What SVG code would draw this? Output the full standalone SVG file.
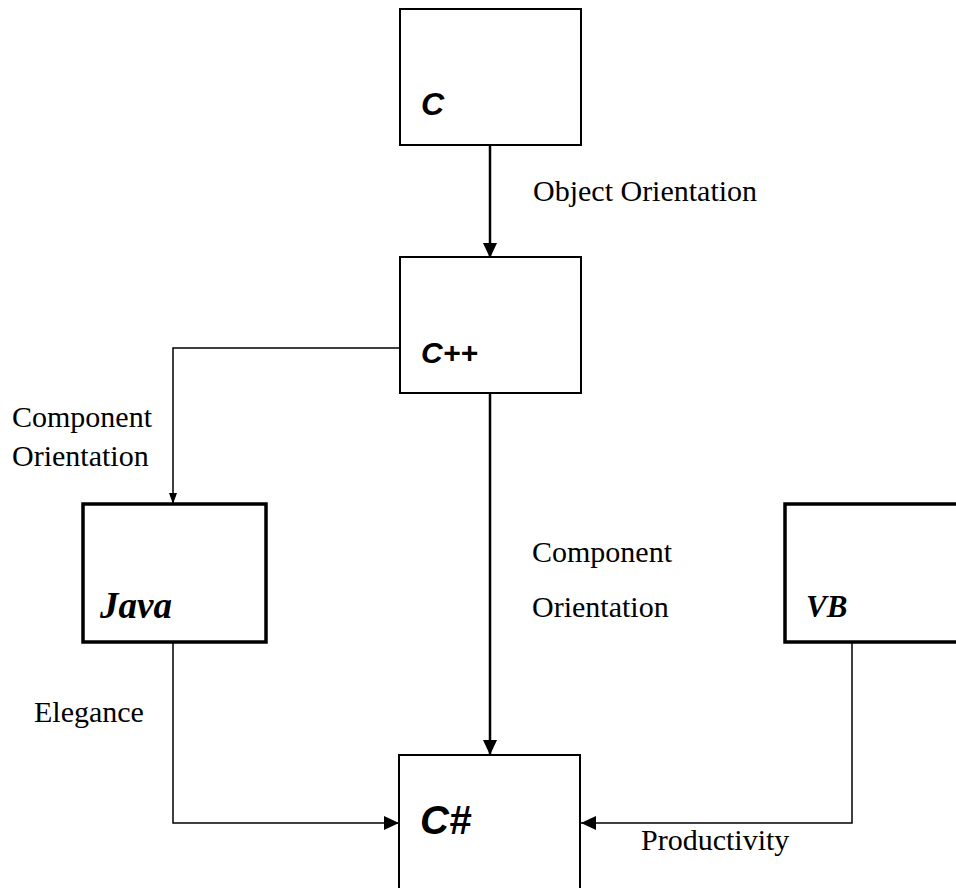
<svg xmlns="http://www.w3.org/2000/svg" width="956" height="888" viewBox="0 0 956 888">
<style>
.box{fill:#fff;stroke:#000;stroke-width:2}
.thick{fill:#fff;stroke:#000;stroke-width:3.5}
.lbl{font-family:"Liberation Serif",serif;font-size:30px;fill:#000}
.name{font-family:"Liberation Serif",serif;font-weight:bold;font-style:italic;fill:#000}
.cname{font-family:"Liberation Sans",sans-serif;font-weight:bold;font-style:italic;fill:#000}
.bold{fill:none;stroke:#000;stroke-width:2.5}
.thin{fill:none;stroke:#000;stroke-width:1.5}
</style>
<defs>
<marker id="big" markerUnits="userSpaceOnUse" markerWidth="16" markerHeight="16" refX="15" refY="7" orient="auto">
<path d="M0,0 L15,7 L0,14 Z" fill="#000"/>
</marker>
<marker id="small" markerUnits="userSpaceOnUse" markerWidth="12" markerHeight="12" refX="11" refY="4" orient="auto">
<path d="M0,0 L11,4 L0,8 Z" fill="#000"/>
</marker>
</defs>
<rect width="956" height="888" fill="#fff"/>
<g id="connectors">
<line class="bold" x1="490" y1="145" x2="490" y2="258" marker-end="url(#big)"/>
<line class="bold" x1="490" y1="393" x2="490" y2="755" marker-end="url(#big)"/>
<polyline class="thin" points="400,348 173,348 173,504" marker-end="url(#small)"/>
<polyline class="thin" points="173,642 173,823 399,823" marker-end="url(#big)"/>
<polyline class="thin" points="852,642 852,823 581,823" marker-end="url(#big)"/>
</g>
<g id="labels">
<text class="lbl" x="533" y="201">Object Orientation</text>
<text class="lbl" x="12" y="427">Component</text>
<text class="lbl" x="12" y="466">Orientation</text>
<text class="lbl" x="532" y="562">Component</text>
<text class="lbl" x="532" y="617">Orientation</text>
<text class="lbl" x="34" y="722">Elegance</text>
<text class="lbl" x="641" y="850">Productivity</text>
</g>
<g id="node-c">
<rect class="box" x="400" y="9" width="181" height="136"/>
<text class="cname" x="421" y="115" font-size="32">C</text>
</g>
<g id="node-cpp">
<rect class="box" x="400" y="257" width="181" height="136"/>
<text class="cname" x="421" y="363" font-size="30">C++</text>
</g>
<g id="node-java">
<rect class="thick" x="83" y="504" width="183" height="138"/>
<text class="name" x="100" y="618" font-size="37">Java</text>
</g>
<g id="node-vb">
<rect class="thick" x="785" y="504" width="190" height="138"/>
<text class="name" x="806" y="617" font-size="31">VB</text>
</g>
<g id="node-csharp">
<rect class="box" x="399" y="755" width="181" height="150"/>
<text class="cname" x="420" y="834" font-size="40">C#</text>
</g>
</svg>
